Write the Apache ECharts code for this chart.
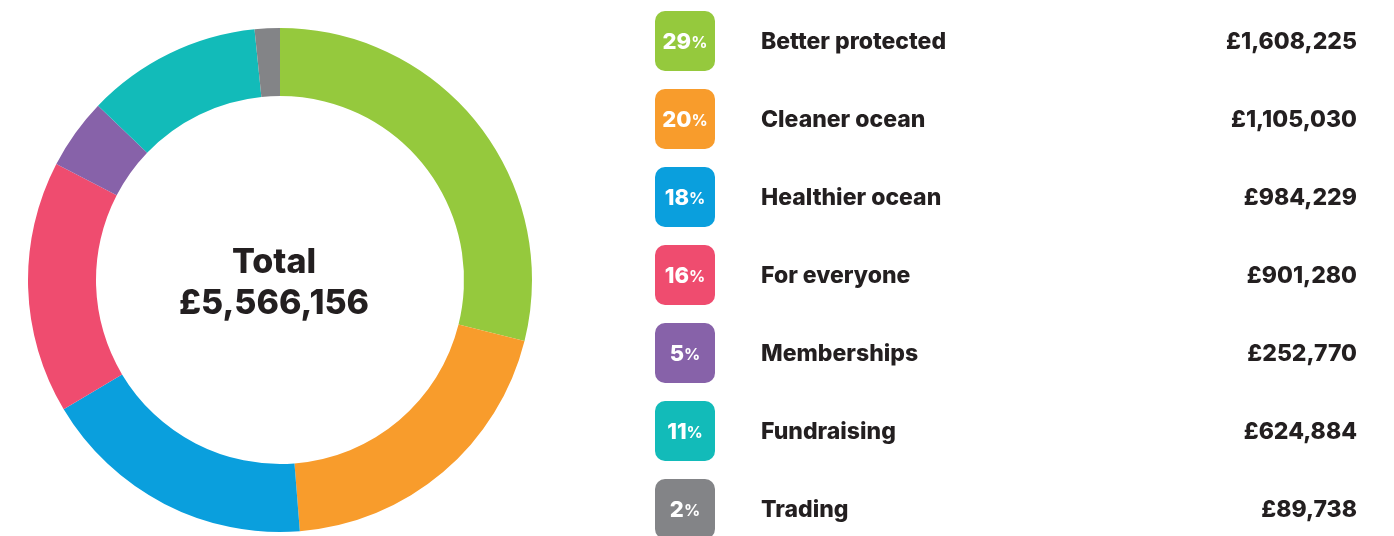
<!DOCTYPE html>
<html>
<head>
<meta charset="utf-8">
<script src="https://cdn.jsdelivr.net/npm/echarts@6/dist/echarts.min.js"></script>
<style>
  html, body { margin: 0; padding: 0; background: #fff; }
  #chart { width: 1394px; height: 536px; }
</style>
</head>
<body>
<div id="chart"></div>
<script>
// income split
var categories = ['Better protected', 'Cleaner ocean', 'Healthier ocean', 'For everyone', 'Memberships', 'Fundraising', 'Trading'];
var amounts = [1608225, 1105030, 984229, 901280, 252770, 624884, 89738];
var colors = ['#95c93d', '#f89c2c', '#0a9fdd', '#ef4c6f', '#8762a9', '#12bbb9', '#838487'];

var FONT = 'Inter, "Open Sans", sans-serif';
var INK = '#231f20';

var total = amounts.reduce(function (a, b) { return a + b; }, 0);

function money(v) {
  return '£' + v.toString().replace(/\B(?=(\d{3})+(?!\d))/g, ',');
}

var pieData = categories.map(function (name, i) {
  return { name: name, value: amounts[i], itemStyle: { color: colors[i] } };
});

// table on the right
var rows = [];
categories.forEach(function (name, i) {
  var cy = 41 + i * 78;
  var pct = Math.round(amounts[i] / total * 100);
  rows.push({
    type: 'rect',
    shape: { x: 655, y: cy - 30, width: 60, height: 60, r: 10 },
    style: { fill: colors[i] }
  });
  rows.push({
    type: 'text',
    x: 685, y: cy + 1,
    style: {
      text: '{n|' + pct + '}{p|%}',
      align: 'center', verticalAlign: 'middle',
      rich: {
        n: { fontFamily: FONT, fontWeight: 800, fontSize: 22, fill: '#fff' },
        p: { fontFamily: FONT, fontWeight: 700, fontSize: 16, fill: '#fff', padding: [3, 0, 0, 0] }
      }
    }
  });
  rows.push({
    type: 'text',
    x: 761, y: cy + 1,
    style: {
      text: name, fill: INK,
      font: '800 23px ' + FONT,
      align: 'left', verticalAlign: 'middle'
    }
  });
  rows.push({
    type: 'text',
    x: 1357, y: cy + 1,
    style: {
      text: money(amounts[i]), fill: INK,
      font: '800 23px ' + FONT,
      align: 'right', verticalAlign: 'middle'
    }
  });
});

var chart = echarts.init(document.getElementById('chart'));
chart.setOption({
  animation: false,
  series: [{
    type: 'pie',
    center: [280, 280],
    radius: [184, 252],
    startAngle: 90,
    clockwise: true,
    label: { show: false },
    labelLine: { show: false },
    emphasis: { disabled: true },
    itemStyle: { borderWidth: 0 },
    data: pieData
  }],
  graphic: [{
    type: 'text',
    x: 274, y: 283,
    style: {
      text: 'Total\n' + money(total),
      align: 'center', verticalAlign: 'middle',
      fill: INK,
      font: '800 34px ' + FONT,
      lineHeight: 41
    }
  }].concat(rows)
});
</script>
</body>
</html>
